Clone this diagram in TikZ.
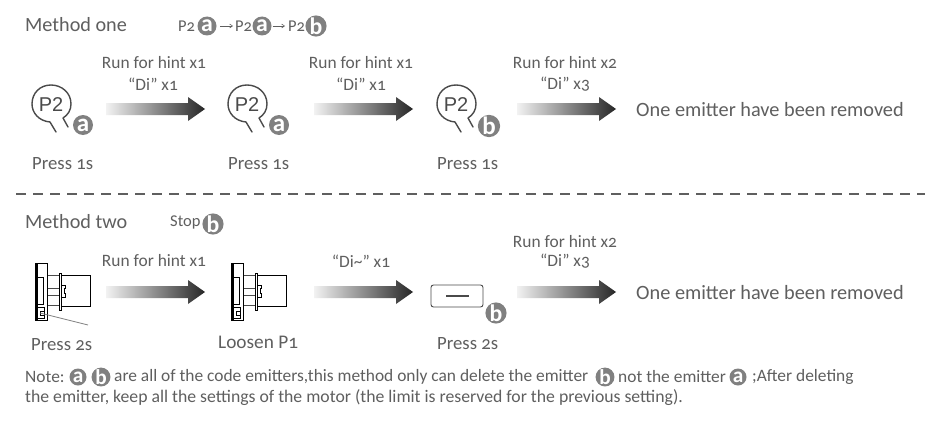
\documentclass[tikz,border=0pt]{standalone}
\usepackage{fontspec}
\setmainfont[Numbers=OldStyle]{Carlito}
\newfontfamily\bulbfont{Liberation Sans}
\usetikzlibrary{calc,arrows.meta}
\definecolor{txt}{HTML}{5F5F5F}
\definecolor{badgegray}{HTML}{808080}
\definecolor{linegray}{HTML}{4A4A4A}
\newcommand{\fs}[1]{\fontsize{#1}{#1}\selectfont}
\tikzset{
  x=1pt,y=-1pt,
  lab/.style={text=txt,inner sep=0pt,font=\fs{17.4}},
  big/.style={text=txt,inner sep=0pt,font=\fs{20.3},anchor=west},
  head/.style={text=txt,inner sep=0pt,font=\fs{20.2},anchor=west},
  press/.style={text=txt,inner sep=0pt,font=\fs{18.7},anchor=west},
  note/.style={text=txt,inner sep=0pt,font=\fs{17.4},anchor=west},
  small/.style={text=txt,inner sep=0pt,font=\fs{16.5},anchor=west},
  badge/.style={circle,fill=badgegray,text=white,inner sep=0pt,minimum size=#1pt,font=\pgfmathsetmacro\bs{#1*1.25}\bfseries\fs{\bs}},
  badge/.default=19,
  bulbline/.style={draw=linegray,line width=1.4pt,line cap=round,line join=round},
  thinarrow/.style={draw=txt,line width=0.5pt,-{Straight Barb[length=3pt,width=4pt]}},
  pics/bulb/.style={code={
    \draw[bulbline] (17,22) -- (12,13) .. controls (17,10) and (20,5) .. (20,-1)
      .. controls (20,-12) and (11,-20) .. (0,-20)
      .. controls (-11,-20) and (-19,-12) .. (-19,-1)
      .. controls (-19,8) and (-12,16) .. (-1,17) -- (5,27);
    \node[inner sep=0pt,text=linegray,font=\bulbfont\fs{20}] at (0,0) {P2};
  }},
  pics/device/.style={code={
    \fill[black] (0,0) rectangle (2.7,57);
    \draw[black,line width=0.7pt] (0,0) rectangle (12.7,57);
    \fill[black] (2.7,13.7) rectangle (9.3,42);
    \fill[white] (2.7,15) rectangle (8.3,41);
    \draw[black,line width=0.8pt] (2.7,44) rectangle (9.3,55);
    \draw[black,line width=0.7pt] (5,48) -- (9,48) (5,52) -- (9,52) (5,48) -- (5,52);
    \draw[linegray,line width=0.7pt] (12.7,12.7) -- (24,12.7) (12.7,25) -- (24,25) (12.7,32) -- (24,32) (12.7,42) -- (24,42);
    \draw[black,line width=0.7pt] (24,10) rectangle (26.7,47);
    \draw[black,line width=0.8pt] (26.7,12.7) -- (55,12.7) -- (55,43.7) -- (26.7,43.7)
       (26.7,22) -- (30.5,22) -- (30.5,25) -- (29,25) -- (29,30) -- (30.5,30) -- (30.5,34) -- (26.7,34);
  }},
}
\newcommand{\blockarrow}[1]{%
  \shade[left color=black!5,right color=black!85,middle color=black!45]
    (#1) ++(0,-6) -- ++(82,0) -- ++(0,-6) -- ++(17,12) -- ++(-17,12) -- ++(0,-6) -- ++(-82,0) -- cycle;}
\begin{document}
\begin{tikzpicture}
\useasboundingbox (0,0) rectangle (933,428);
\fill[white] (0,0) rectangle (933,428);

% Method one
\node[head] (m1) at (25,25) {Method one};
\node[small] (p1) at (178,26) {P2};
\node[badge] (s1) at (207,26) {a};
\node[small] (p2) at (235,26) {P2};
\node[badge] (s2) at (262,26) {a};
\node[small] (p3) at (288,26) {P2};
\node[badge] (s3) at (316,26) {b};
\draw[thinarrow,shorten <=3.5pt,shorten >=2pt] (s1.east) -- (p2.west);
\draw[thinarrow,shorten <=1pt,shorten >=3pt] (s2.east) -- (p3.west);

\pic at (51,105) {bulb};
\pic at (247,105) {bulb};
\pic at (456,105) {bulb};
\node[badge=20] (b1) at (83,125) {a};
\node[badge=20] (b2) at (279,125) {a};
\node[badge=20] (b3) at (489,126) {b};

\node[lab] (r1) at (154,63) {Run for hint x1};
\node[lab] (d1) at (153,84) {“Di” x1};
\node[lab] (r2) at (361,63) {Run for hint x1};
\node[lab] (d2) at (361,84) {“Di” x1};
\node[lab] (r3) at (565,63) {Run for hint x2};
\node[lab] (d3) at (565,84) {“Di” x3};

\coordinate (a1) at (106,109);
\coordinate (a2) at (314,109);
\coordinate (a3) at (517,109);
\blockarrow{a1}\blockarrow{a2}\blockarrow{a3}

\node[press] (q1) at (32,164) {Press 1s};
\node[press] (q2) at (228,164) {Press 1s};
\node[press] (q3) at (437,164) {Press 1s};
\node[big] (e1) at (636,110) {One emitter have been removed};

% divider
\coordinate (dl) at (16,194);
\coordinate (dr) at (925,194);
\draw[txt,line width=1.1pt,dash pattern=on 10pt off 7pt] (dl) -- (dr);

% Method two
\node[head] (m2) at (25,222) {Method two};
\node[small] (st) at (170,222) {Stop};
\node[badge] (s4) at (213,224) {b};

\pic at (35,263) {device};
\pic at (231,263) {device};
\coordinate (l1) at (40,313);
\coordinate (l2) at (88,325);
\draw[badgegray,line width=0.8pt] (l1) -- (l2);

\node[lab] (r4) at (154,261) {Run for hint x1};
\node[lab] (d4) at (361,261) {“Di\textasciitilde” x1};
\node[lab] (r5) at (565,242) {Run for hint x2};
\node[lab] (d5) at (565,261) {“Di” x3};

\coordinate (a4) at (106,292);
\coordinate (a5) at (314,292);
\coordinate (a6) at (517,292);
\blockarrow{a4}\blockarrow{a5}\blockarrow{a6}

\node[draw=linegray,line width=0.9pt,rounded corners=2.5pt,minimum width=52pt,minimum height=22pt,inner sep=0pt] (key) at (457,296) {};
\coordinate (k1) at (446,296);
\coordinate (k2) at (469,296);
\draw[linegray,line width=1.3pt] (k1) -- (k2);
\node[badge] (b4) at (496,313) {b};

\node[press] (q4) at (31,345) {Press 2s};
\node[press,font=\fs{19.3}] (q5) at (218,342) {Loosen P1};
\node[press] (q6) at (437,344) {Press 2s};
\node[big] (e2) at (636,293) {One emitter have been removed};

% Note
\node[note] (n1) at (25,377) {Note:};
\node[badge=17] (n2) at (78,377) {a};
\node[badge=17] (n3) at (101,377) {b};
\node[note] (n4) at (114,377) {are all of the code emitters,this method only can delete the emitter};
\node[badge=17] (n5) at (605,377) {b};
\node[note] (n6) at (618,377) {not the emitter};
\node[badge=17] (n7) at (738,377) {a};
\node[note] (n8) at (752,377) {;After deleting};
\node[note,font=\fs{17.7}] (n9) at (25,398) {the emitter, keep all the settings of the motor (the limit is reserved for the previous setting).};
\end{tikzpicture}
\end{document}
